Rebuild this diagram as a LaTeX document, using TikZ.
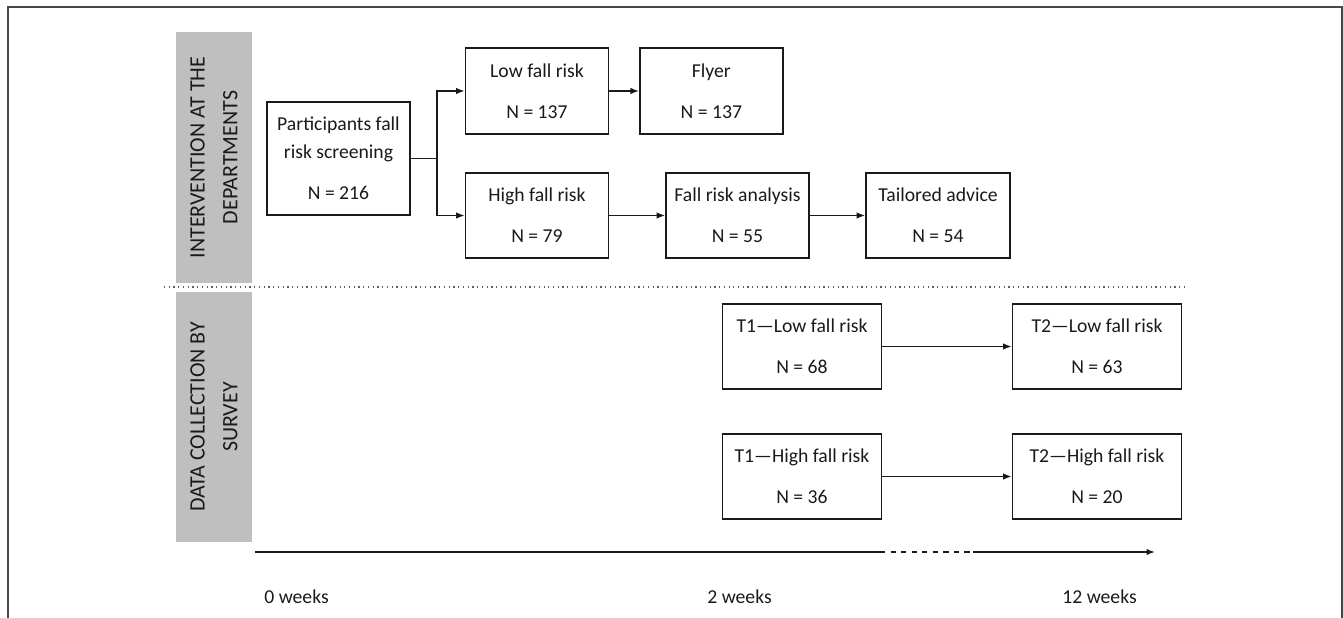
\documentclass[tikz,border=0pt]{standalone}
\usepackage{fontspec}
\setmainfont{Carlito}
\usepackage{xcolor}
\usepackage{tikz}
\usetikzlibrary{arrows.meta}
\definecolor{bandgray}{HTML}{BFBFBF}
\definecolor{inkgray}{HTML}{1A1A1A}
\tikzset{fallbox/.style={draw=inkgray,line width=1pt,fill=white,align=center,inner sep=0pt,
    font=\fontsize{11.2pt}{15.9pt}\selectfont,text=inkgray},
  bandtext/.style={rotate=90,align=center,font=\fontsize{12.5pt}{18.7pt}\selectfont,text=inkgray},
  arr/.style={-{Latex[length=1.7mm,width=1.3mm]},line width=0.8pt,draw=inkgray}}

\begin{document}
\begin{tikzpicture}[x=0.02cm,y=-0.02cm]
	\useasboundingbox (0,0) rectangle (1343,618);
	\draw[inkgray!80,line width=0.6pt] (8,618) -- (8,7) -- (1342,7) -- (1342,618);
	%
	\fill[bandgray] (176,32) rectangle (252,283);
	\fill[bandgray] (176,292) rectangle (252,542);
	\node[bandtext] (lane1) at (214,157.5) {INTERVENTION AT THE\\DEPARTMENTS};
	\node[bandtext] (lane2) at (214,417) {DATA COLLECTION BY\\SURVEY};
	\draw[inkgray!70,dotted,line width=0.7pt] (164,287) -- (1188,287);
	%
	\node[fallbox,minimum width=143*0.02cm,minimum height=113*0.02cm] (part) at (338.5,158.5) {Participants fall\\risk screening\\[0.26cm]N = 216};
	\node[fallbox,minimum width=143*0.02cm,minimum height=86*0.02cm] (low) at (537,91) {Low fall risk\\[0.26cm]N = 137};
	\node[fallbox,minimum width=143*0.02cm,minimum height=86*0.02cm] (flyer) at (711.3,91) {Flyer\\[0.26cm]N = 137};
	\node[fallbox,minimum width=143*0.02cm,minimum height=85*0.02cm] (high) at (537,215.5) {High fall risk\\[0.26cm]N = 79};
	\node[fallbox,minimum width=143*0.02cm,minimum height=85*0.02cm] (analysis) at (737.5,215.5) {Fall risk analysis\\[0.26cm]N = 55};
	\node[fallbox,minimum width=144*0.02cm,minimum height=85*0.02cm] (advice) at (938,215.5) {Tailored advice\\[0.26cm]N = 54};
	%
	\node[fallbox,minimum width=159*0.02cm,minimum height=85*0.02cm] (t1low) at (802,346.5) {T1---Low fall risk\\[0.26cm]N = 68};
	\node[fallbox,minimum width=169*0.02cm,minimum height=85*0.02cm] (t2low) at (1097,346.5) {T2---Low fall risk\\[0.26cm]N = 63};
	\node[fallbox,minimum width=159*0.02cm,minimum height=85*0.02cm] (t1high) at (802,476.5) {T1---High fall risk\\[0.26cm]N = 36};
	\node[fallbox,minimum width=169*0.02cm,minimum height=85*0.02cm] (t2high) at (1097,476.5) {T2---High fall risk\\[0.26cm]N = 20};
	%
	\coordinate (split) at (437,158.5);
	\draw[inkgray,line width=0.8pt] (part.east) -- (split);
	\draw[arr] (split) |- (low.west);
	\draw[arr] (split) |- (high.west);
	\path[arr]
	(low) edge (flyer)
	(high) edge (analysis)
	(analysis) edge (advice)
	(t1low) edge (t2low)
	(t1high) edge (t2high);
	%
	\coordinate (t0) at (255,552);
	\coordinate (tgap) at (880,552);
	\coordinate (tdash) at (973,552);
	\coordinate (tend) at (1155,552);
	\draw[inkgray,line width=0.9pt] (t0) -- (tgap);
	\draw[inkgray,line width=0.9pt,dashed] (tgap) -- (tdash);
	\draw[arr,line width=0.9pt] (tdash) -- (tend);
	\node[anchor=west,inner sep=0pt,font=\fontsize{11.2pt}{13pt}\selectfont,text=inkgray] (w0) at (264,597) {0 weeks};
	\node[anchor=west,inner sep=0pt,font=\fontsize{11.2pt}{13pt}\selectfont,text=inkgray] (w2) at (707,597) {2 weeks};
	\node[anchor=west,inner sep=0pt,font=\fontsize{11.2pt}{13pt}\selectfont,text=inkgray] (w12) at (1062,597) {12 weeks};
\end{tikzpicture}
\end{document}
